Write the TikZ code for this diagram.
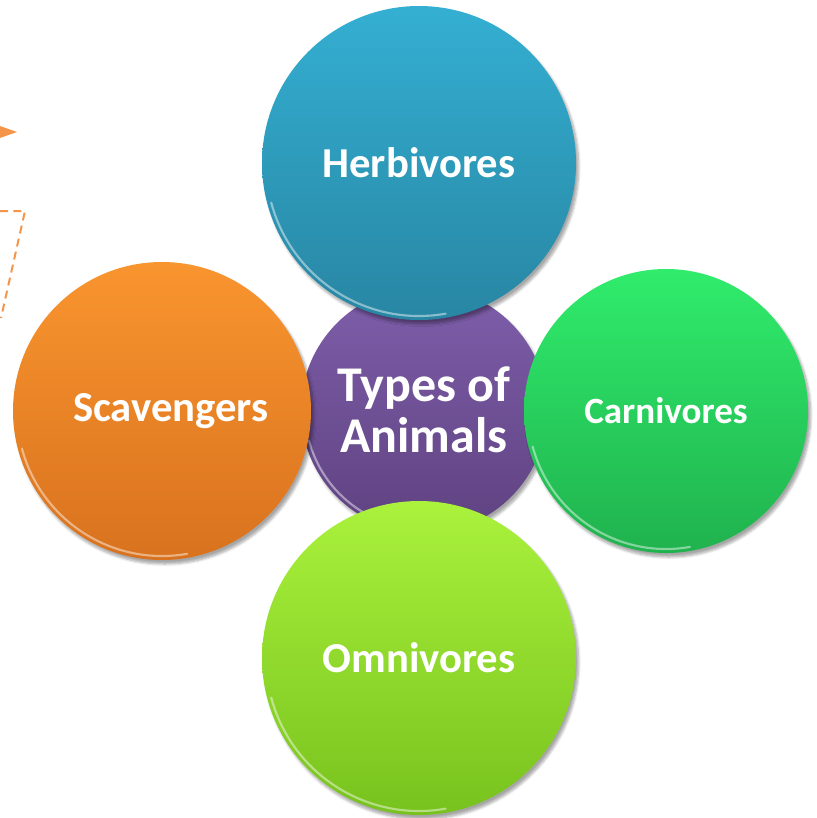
\documentclass[tikz,border=0pt]{standalone}
\usepackage{fontspec}
\setmainfont{Carlito}
\usetikzlibrary{shadows.blur}
\definecolor{herbT}{HTML}{34AFD2}
\definecolor{herbB}{HTML}{2886A3}
\definecolor{purpT}{HTML}{7E5EAA}
\definecolor{purpB}{HTML}{5F4281}
\definecolor{oranT}{HTML}{F9952F}
\definecolor{oranB}{HTML}{D9721E}
\definecolor{carnT}{HTML}{30EC6C}
\definecolor{carnB}{HTML}{20B24E}
\definecolor{omniT}{HTML}{AAF23C}
\definecolor{omniB}{HTML}{78C21E}
\definecolor{dashor}{HTML}{F5954A}
\tikzset{
  bubble/.style={circle, inner sep=0pt, text=white, font=\bfseries, align=center,
    blur shadow={shadow xshift=2pt, shadow yshift=-3pt, shadow blur steps=6, shadow opacity=35}},
  rim/.style={white, opacity=0.45, line width=1.6pt, line cap=round},
}
\newcommand{\rimarc}[2]{%
  \draw[rim] ($(#1.center)+(195:#2*0.75pt)$) arc[start angle=195, end angle=280, radius=#2*0.75pt];}
\begin{document}
\begin{tikzpicture}[x=0.75pt,y=-0.75pt]
\useasboundingbox (0,0) rectangle (817,818);
% decorative orange marks at the left edge
\coordinate (d1) at (0,211);
\coordinate (d2) at (25,211);
\coordinate (d3) at (1,318);
\draw[dashor, line width=1.5pt, dash pattern=on 6pt off 4pt] (d1) -- (d2) -- (d3);
\coordinate (t1) at (0,126);
\coordinate (t2) at (17,132);
\coordinate (t3) at (0,138);
\fill[dashor] (t1) -- (t2) -- (t3) -- cycle;
% centre
\node[bubble, minimum size=246*0.75pt, top color=purpT, bottom color=purpB,
  font=\bfseries\fontsize{37.5}{38}\selectfont] (center) at (424,410) {Types of\\Animals};
\rimarc{center}{119}
% outer circles
\node[bubble, minimum size=298*0.75pt, top color=oranT, bottom color=oranB,
  font=\bfseries\fontsize{32}{34}\selectfont] (scav) at (162,411) {\hspace*{13pt}Scavengers};
\rimarc{scav}{145}
\node[bubble, minimum size=284*0.75pt, top color=carnT, bottom color=carnB,
  font=\bfseries\fontsize{27.8}{30}\selectfont] (carn) at (666,411) {Carnivores};
\rimarc{carn}{138}
\node[bubble, minimum size=314*0.75pt, top color=herbT, bottom color=herbB,
  font=\bfseries\fontsize{32}{34}\selectfont] (herb) at (419,163) {Herbivores};
\rimarc{herb}{153}
\node[bubble, minimum size=314*0.75pt, top color=omniT, bottom color=omniB,
  font=\bfseries\fontsize{32}{34}\selectfont] (omni) at (419,658) {Omnivores};
\rimarc{omni}{153}
\end{tikzpicture}
\end{document}
